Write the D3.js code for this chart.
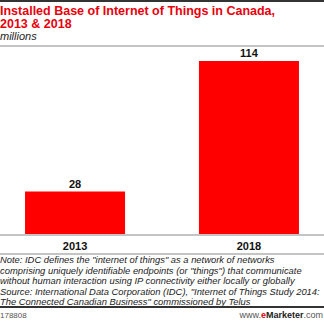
<!DOCTYPE html>
<html>
<head>
<meta charset="utf-8">
<script src="https://cdn.jsdelivr.net/npm/d3@7"></script>
<style>
  body { margin: 0; background: #fff; }
  svg { display: block; font-family: Arial, "Liberation Sans", sans-serif; }
</style>
</head>
<body>
<div id="chart"></div>
<script>
// data
var years = ["2013", "2018"];
var values = [28, 114];
var titleLines = ["Installed Base of Internet of Things in Canada,", "2013 & 2018"];
var noteLines = [
  "Note: IDC defines the \"internet of things\" as a network of networks",
  "comprising uniquely identifiable endpoints (or \"things\") that communicate",
  "without human interaction using IP connectivity either locally or globally",
  "Source: International Data Corporation (IDC), \"Internet of Things Study 2014:",
  "The Connected Canadian Business\" commissioned by Telus"
];

var width = 324, height = 321;

var svg = d3.select("#chart").append("svg")
    .attr("width", width)
    .attr("height", height);

// top rule
svg.append("rect").attr("x", 0).attr("y", 0).attr("width", width).attr("height", 2).attr("fill", "#333");

svg.selectAll(".title")
    .data(titleLines)
  .enter().append("text")
    .attr("x", 0)
    .attr("y", function(d, i) { return 15 + i * 12.5; })
    .attr("fill", "#e8000b")
    .style("font-weight", "bold")
    .style("font-size", "12.5px")
    .text(function(d) { return d; });

svg.append("text")
    .attr("x", 0).attr("y", 40)
    .style("font-style", "italic")
    .style("font-size", "11px")
    .attr("fill", "#222")
    .text("millions");

svg.append("rect").attr("x", 0).attr("y", 45).attr("width", width).attr("height", 2).attr("fill", "#c4c4c4");

// bars
var x = d3.scaleBand()
    .domain(years)
    .range([0, width])
    .paddingInner(0.425)
    .paddingOuter(0.144);

var y = d3.scaleLinear()
    .domain([0, 114])
    .range([234, 61]);

svg.selectAll(".bar")
    .data(values)
  .enter().append("rect")
    .attr("x", function(d, i) { return x(years[i]); })
    .attr("y", function(d) { return y(d); })
    .attr("width", x.bandwidth())
    .attr("height", function(d) { return y(0) - y(d); })
    .attr("fill", "#ff0000");

svg.selectAll(".val")
    .data(values)
  .enter().append("text")
    .attr("x", function(d, i) { return x(years[i]) + x.bandwidth() / 2; })
    .attr("y", function(d) { return y(d) - 4; })
    .attr("text-anchor", "middle")
    .style("font-weight", "bold")
    .style("font-size", "11px")
    .attr("fill", "#111")
    .text(function(d) { return d; });

// baseline + axis labels
svg.append("rect").attr("x", 0).attr("y", 234).attr("width", width).attr("height", 2).attr("fill", "#c4c4c4");

var xAxis = svg.append("g")
    .attr("transform", "translate(0,236)")
    .call(d3.axisBottom(x).tickSize(0).tickPadding(6));
xAxis.select(".domain").remove();
xAxis.selectAll("text")
    .style("font-family", "Arial, 'Liberation Sans', sans-serif")
    .style("font-weight", "bold")
    .style("font-size", "11px")
    .attr("fill", "#111");

svg.append("rect").attr("x", 0).attr("y", 253).attr("width", width).attr("height", 2).attr("fill", "#c4c4c4");

// notes
svg.selectAll(".note")
    .data(noteLines)
  .enter().append("text")
    .attr("x", 0)
    .attr("y", function(d, i) { return 263 + i * 10.6; })
    .style("font-style", "italic")
    .style("font-size", "9.4px")
    .attr("fill", "#222")
    .text(function(d) { return d; });

svg.append("rect").attr("x", 0).attr("y", 306).attr("width", width).attr("height", 2).attr("fill", "#333");

// footer
svg.append("text")
    .attr("x", 0).attr("y", 318)
    .style("font-size", "8px")
    .attr("fill", "#555")
    .text("178808");

var brand = svg.append("text")
    .attr("x", width - 1).attr("y", 318)
    .attr("text-anchor", "end")
    .style("font-size", "9px")
    .attr("fill", "#555");
brand.append("tspan").text("www.");
brand.append("tspan").attr("fill", "#e8000b").style("font-weight", "bold").text("e");
brand.append("tspan").attr("fill", "#222").style("font-weight", "bold").text("Marketer");
brand.append("tspan").text(".com");
</script>
</body>
</html>
